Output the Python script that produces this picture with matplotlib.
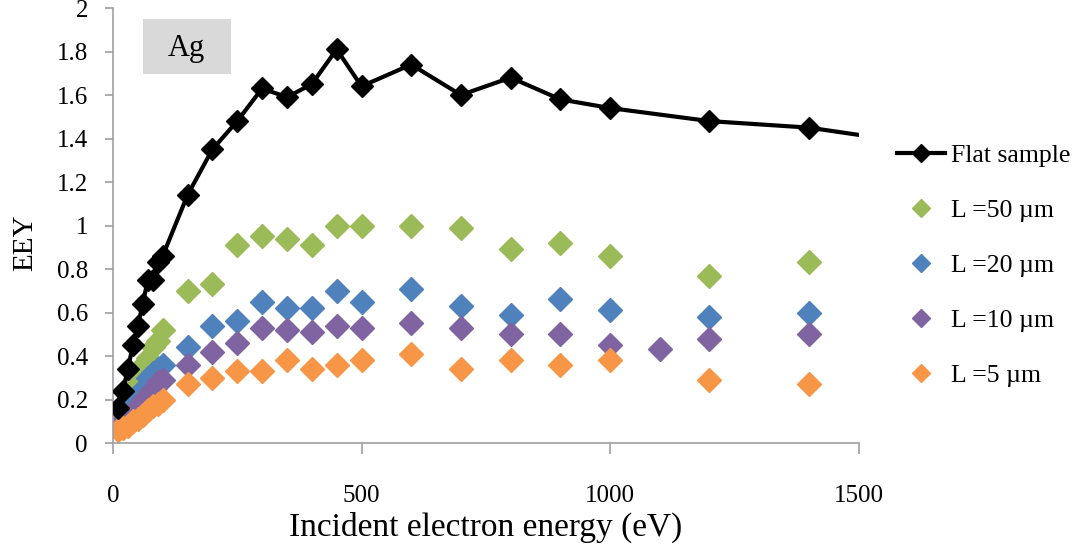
import numpy as np
import matplotlib.pyplot as plt
from matplotlib.patches import Rectangle

# incident energies (eV)
e_low = [10, 20, 30, 40, 50, 60, 70, 80, 90, 100]
e_high = [150, 200, 250, 300, 350, 400, 450, 500, 600, 700, 800, 900, 1000, 1200, 1400]

flat_e = e_low + e_high + [2000]
flat_y = [0.16, 0.24, 0.34, 0.45, 0.54, 0.64, 0.75, 0.75, 0.83, 0.86,
          1.14, 1.35, 1.48, 1.63, 1.59, 1.65, 1.81, 1.64, 1.74, 1.60, 1.68, 1.58, 1.54, 1.48, 1.45,
          1.25]

l50_y = [0.13, 0.17, 0.22, 0.27, 0.31, 0.36, 0.39, 0.44, 0.47, 0.52,
         0.70, 0.73, 0.91, 0.95, 0.94, 0.91, 1.00, 1.00, 1.00, 0.99, 0.89, 0.92, 0.86, 0.77, 0.83]
l20_e = e_low + e_high
l20_y = [0.10, 0.13, 0.15, 0.18, 0.22, 0.25, 0.30, 0.32, 0.34, 0.36,
         0.44, 0.54, 0.56, 0.65, 0.62, 0.62, 0.70, 0.65, 0.71, 0.63, 0.59, 0.66, 0.61, 0.58, 0.60]
l10_e = e_low + e_high[:13] + [1100] + e_high[13:]
l10_y = [0.09, 0.11, 0.12, 0.14, 0.17, 0.20, 0.22, 0.25, 0.28, 0.29,
         0.36, 0.42, 0.46, 0.53, 0.52, 0.51, 0.54, 0.53, 0.55, 0.53, 0.50, 0.50, 0.45, 0.43, 0.48, 0.50]
l5_y = [0.06, 0.07, 0.08, 0.10, 0.11, 0.13, 0.15, 0.17, 0.18, 0.20,
        0.27, 0.30, 0.33, 0.33, 0.38, 0.34, 0.36, 0.38, 0.41, 0.34, 0.38, 0.36, 0.38, 0.29, 0.27]

plt.rcParams['font.family'] = ['Liberation Serif', 'DejaVu Serif']

fig = plt.figure(figsize=(10.8, 5.48), dpi=100)
ax = fig.add_axes([0.1046, 0.1916, 0.6904, 0.7938])

ax.plot(flat_e, flat_y, color='black', lw=3, marker='D', ms=11,
        label='Flat sample', zorder=5)
ax.plot(e_low + e_high, l50_y, ls='none', marker='D', ms=12, color='#9BBB59',
        label='L =50 µm')
ax.plot(l20_e, l20_y, ls='none', marker='D', ms=12, color='#4F81BD',
        label='L =20 µm')
ax.plot(l10_e, l10_y, ls='none', marker='D', ms=12, color='#8064A2',
        label='L =10 µm')
ax.plot(e_low + e_high, l5_y, ls='none', marker='D', ms=12, color='#F79646',
        label='L =5 µm')

ax.set_xlim(0, 1500)
ax.set_ylim(0, 2)
ax.set_xticks([0, 500, 1000, 1500])
yt = np.arange(0, 2.01, 0.2)
ax.set_yticks(yt)
ax.set_yticklabels(['%g' % round(v, 1) for v in yt])
for s in ['top', 'right']:
    ax.spines[s].set_visible(False)
for s in ['left', 'bottom']:
    ax.spines[s].set_color('#a0a0a0')
    ax.spines[s].set_linewidth(1.2)
ax.tick_params(axis='both', direction='out', color='#a0a0a0', labelsize=18, width=1.2)
ax.tick_params(axis='y', length=6, pad=12)
ax.tick_params(axis='x', length=8, pad=22)

ax.set_xlabel('Incident electron energy (eV)', fontsize=24, labelpad=4)
ax.set_ylabel('EEY', fontsize=21)
ax.yaxis.set_label_coords(-0.1, 0.46)

ax.add_patch(Rectangle((0.04, 0.848), 0.118, 0.127, transform=ax.transAxes,
                       facecolor='#d9d9d9', edgecolor='none', clip_on=False))
ax.text(0.099, 0.908, 'Ag', transform=ax.transAxes, fontsize=22,
        ha='center', va='center')

leg = ax.legend(loc='upper left', bbox_to_anchor=(1.02, 0.74), frameon=False,
                fontsize=18.5, handlelength=1.9, labelspacing=1.24,
                markerscale=0.8, handletextpad=0.2)

fig.savefig('out.png', dpi=100)
